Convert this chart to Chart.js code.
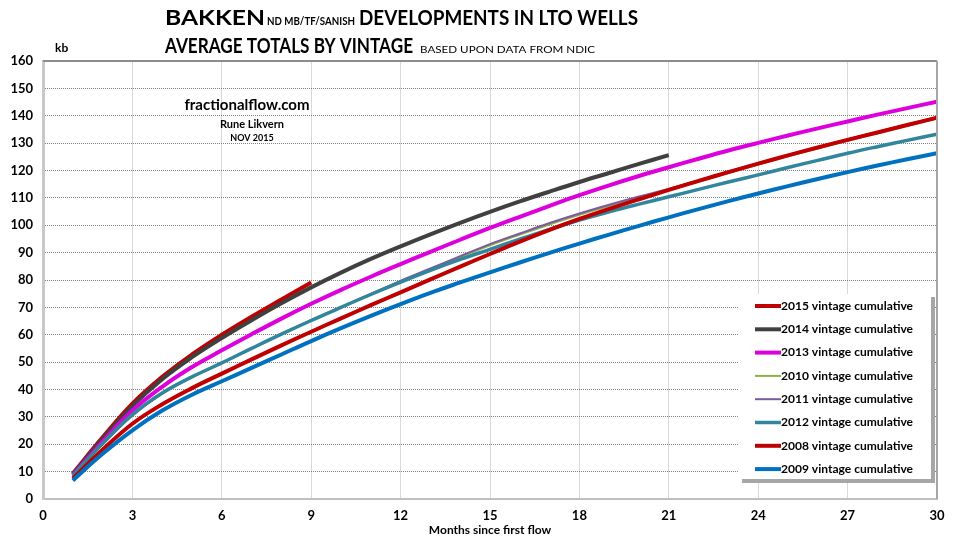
<!DOCTYPE html>
<html>
<head>
<meta charset="utf-8">
<script src="https://cdn.jsdelivr.net/npm/chart.js@4.4.1/dist/chart.umd.min.js"></script>
<style>
  html, body { margin: 0; padding: 0; background: #fff; }
  #wrap { position: relative; width: 960px; height: 540px; }
</style>
</head>
<body>
<div id="wrap"><canvas id="chart"></canvas></div>
<script>
const MONTHS = [1, 2, 3, 4, 5, 6, 7, 8, 9, 10, 11, 12, 13, 14, 15, 16, 17, 18, 19, 20, 21, 22, 23, 24, 25, 26, 27, 28, 29, 30];
const X_TICKS = [0, 3, 6, 9, 12, 15, 18, 21, 24, 27, 30];

const V2015 = [9.3, 22.5, 34.8, 44.6, 52.8, 60, 66.6, 72.9, 79.1];
const V2014 = [9, 22, 34, 43.8, 51.8, 58.8, 65.3, 71.5, 77.3, 82.7, 87.7, 92.3, 96.7, 100.9, 104.9, 108.7, 112.3, 115.8, 119.1, 122.4, 125.6];
const V2013 = [8.7, 21, 32.3, 41, 48.2, 54.3, 60.2, 65.9, 71.3, 76.4, 81.2, 85.8, 90.3, 94.7, 99, 103.1, 107.1, 111, 114.6, 118, 121.2, 124.3, 127.3, 130.1, 132.8, 135.4, 137.9, 140.4, 142.8, 145.1];
const V2010 = [8.4, 20.1, 30.6, 38.6, 44.5, 49.7, 55, 60.3, 65.3, 70.1, 74.9, 79.6, 84, 88.4, 92.7, 96.6, 100.3, 103.8, 107, 110, 112.8, 115.9, 119.1, 122.2, 125.2, 128.1, 130.9, 133.6, 136.3, 139];
const V2011 = [8.3, 20, 30.5, 38.5, 44.5, 49.7, 55, 60.3, 65.3, 70.1, 74.9, 79.7, 84.2, 88.7, 93.1, 97, 100.8, 104.3, 107.5, 110.5, 113.3, 116.4, 119.6, 122.7, 125.7, 128.6, 131.4, 134.1, 136.8, 139.5];
const V2012 = [8.5, 20.3, 30.8, 38.7, 44.6, 49.7, 55, 60.2, 65.2, 70, 74.7, 79.2, 83.5, 87.5, 91.2, 94.9, 98.5, 101.9, 104.9, 107.7, 110.4, 113.1, 115.8, 118.4, 121.1, 123.7, 126.3, 128.7, 131, 133.3];
const V2008 = [7.5, 18, 27.5, 34.6, 40.5, 45.8, 51, 56.1, 61.1, 66, 70.8, 75.5, 80.2, 84.9, 89.5, 94, 98.3, 102.3, 106, 109.5, 112.9, 116.2, 119.4, 122.5, 125.5, 128.4, 131.2, 133.9, 136.6, 139.3];
const V2009 = [6.8, 16.5, 25.1, 32.3, 38.1, 43, 47.9, 52.8, 57.7, 62.4, 66.9, 71.2, 75.3, 79.1, 82.8, 86.4, 89.9, 93.3, 96.6, 99.8, 102.9, 105.9, 108.8, 111.6, 114.3, 116.9, 119.4, 121.8, 124.1, 126.3];

const SERIES = [
    { label: '2015 vintage cumulative', data: V2015, color: '#c00000', width: 4 },
    { label: '2014 vintage cumulative', data: V2014, color: '#404040', width: 4 },
    { label: '2013 vintage cumulative', data: V2013, color: '#dd00dd', width: 4 },
    { label: '2010 vintage cumulative', data: V2010, color: '#8fb043', width: 2 },
    { label: '2011 vintage cumulative', data: V2011, color: '#7a5aa0', width: 2 },
    { label: '2012 vintage cumulative', data: V2012, color: '#31859c', width: 3.5 },
    { label: '2008 vintage cumulative', data: V2008, color: '#c00000', width: 4 },
    { label: '2009 vintage cumulative', data: V2009, color: '#0070c0', width: 4 },
];

const FONT = 'Lato, "Open Sans", sans-serif';

// draw text squeezed/stretched to a given width (Calibri-like metrics)
function fitText(ctx, text, x, y, width) {
    const w = ctx.measureText(text).width;
    ctx.save();
    ctx.translate(x, y);
    ctx.scale(width / w, 1);
    ctx.fillText(text, 0, 0);
    ctx.restore();
}

const decor = {
    id: 'decor',
    afterDatasetsDraw(chart) {
        const { ctx, chartArea: a } = chart;
        ctx.save();
        // top and right frame
        ctx.strokeStyle = '#8c8c8c';
        ctx.lineWidth = 2;
        ctx.beginPath();
        ctx.moveTo(a.left, a.top);
        ctx.lineTo(a.right, a.top);
        ctx.stroke();
        ctx.strokeStyle = '#a6a6a6';
        ctx.beginPath();
        ctx.moveTo(a.right, a.top);
        ctx.lineTo(a.right, a.bottom);
        ctx.stroke();

        // legend box with shadow
        ctx.fillStyle = '#a6a6a6';
        ctx.fillRect(742, 297, 193, 186);
        ctx.fillStyle = '#ffffff';
        ctx.fillRect(739, 294, 192, 185);
        ctx.textBaseline = 'middle';
        ctx.font = 'bold 12px ' + FONT;
        ctx.fillStyle = '#000';
        SERIES.forEach((s, i) => {
            const y = 306 + i * 23.3;
            ctx.strokeStyle = s.color;
            ctx.lineWidth = s.width;
            ctx.beginPath();
            ctx.moveTo(755, y);
            ctx.lineTo(781, y);
            ctx.stroke();
            fitText(ctx, s.label, 781, y, 132);
        });

        // title
        ctx.textBaseline = 'alphabetic';
        ctx.fillStyle = '#000';
        ctx.font = 'bold 21px ' + FONT;
        fitText(ctx, 'BAKKEN', 165, 25, 100);
        ctx.font = 'bold 12px ' + FONT;
        fitText(ctx, 'ND MB/TF/SANISH', 267, 25, 88);
        ctx.font = 'bold 21px ' + FONT;
        fitText(ctx, 'DEVELOPMENTS IN LTO WELLS', 359, 25, 279);
        fitText(ctx, 'AVERAGE TOTALS BY VINTAGE', 165, 53, 248);
        ctx.font = '10px ' + FONT;
        fitText(ctx, 'BASED UPON DATA FROM NDIC', 420, 53, 175);

        // unit
        ctx.font = 'bold 12px ' + FONT;
        ctx.textBaseline = 'middle';
        ctx.fillText('kb', 55, 48);

        // annotation
        ctx.textAlign = 'center';
        ctx.font = 'bold 15px ' + FONT;
        ctx.fillText('fractionalflow.com', 247, 105);
        ctx.font = 'bold 11px ' + FONT;
        ctx.fillText('Rune Likvern', 252, 124);
        ctx.font = 'bold 9px ' + FONT;
        ctx.fillText('NOV 2015', 252, 138);
        ctx.restore();
    },
};

const datasets = SERIES.map((s, i) => ({
    label: s.label,
    data: s.data.map((v, k) => ({ x: MONTHS[k], y: v })),
    borderColor: s.color,
    borderWidth: s.width,
    pointRadius: 0,
    fill: false,
    tension: 0.4,
    order: SERIES.length - 1 - i,
}));

new Chart(document.getElementById('chart'), {
    type: 'line',
    data: { datasets },
    plugins: [decor],
    options: {
        responsive: true,
        maintainAspectRatio: false,
        animation: false,
        layout: { padding: { top: 61, right: 23, left: 0, bottom: 0 } },
        plugins: {
            legend: { display: false },
            tooltip: { enabled: false },
        },
        scales: {
            x: {
                type: 'linear',
                min: 0,
                max: 30,
                afterBuildTicks: s => { s.ticks = X_TICKS.map(v => ({ value: v })); },
                afterFit: s => { s.height = 41; },
                ticks: { color: '#000', font: { family: FONT, size: 13, weight: 'bold' }, padding: 9, maxRotation: 0 },
                grid: { color: '#d9d9d9', drawTicks: false },
                border: { color: '#bfbfbf', width: 2 },
                title: {
                    display: true,
                    text: 'Months since first flow',
                    color: '#000',
                    font: { family: FONT, size: 12, weight: 'bold' },
                    padding: { top: 0, bottom: 3 },
                },
            },
            y: {
                min: 0,
                max: 160,
                afterFit: s => { s.width = 43; },
                ticks: { stepSize: 10, color: '#000', font: { family: FONT, size: 13, weight: 'bold' }, padding: 10 },
                grid: { color: '#808080', drawTicks: false },
                border: { color: '#c8c8c8', width: 3, dash: [1, 1] },
            },
        },
    },
});
</script>
</body>
</html>
